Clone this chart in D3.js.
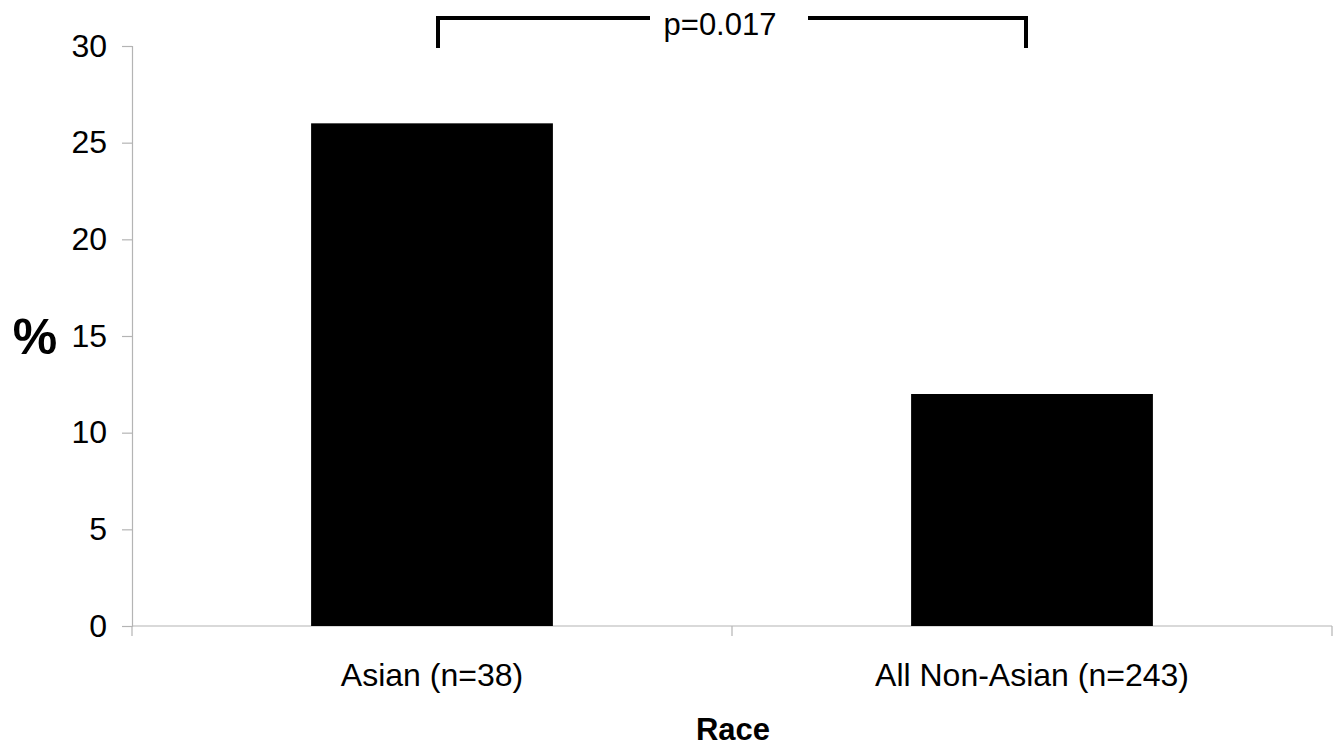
<!DOCTYPE html>
<html>
<head>
<meta charset="utf-8">
<script src="https://cdn.jsdelivr.net/npm/d3@7"></script>
<style>
  html, body { margin: 0; padding: 0; background: #fff; }
  svg text { font-family: "Liberation Sans", Arial, sans-serif; }
</style>
</head>
<body>
<svg id="chart" width="1342" height="748"></svg>
<script>
const categories = ["Asian (n=38)", "All Non-Asian (n=243)"];
const values = [26, 12];
const yTicks = [0, 5, 10, 15, 20, 25, 30];
const yLabel = "%";
const xLabel = "Race";
const pLabel = "p=0.017";

const svg = d3.select("#chart");
const m = { left: 132, right: 1332, top: 46, bottom: 626 };

const x = d3.scaleBand().domain(categories).range([m.left, m.right]).padding(0);
const y = d3.scaleLinear().domain([0, 30]).range([m.bottom, m.top]);
const barW = x.bandwidth() * 0.403;
const axisColor = "#b4b4b4";

// Y axis
const yAxis = d3.axisLeft(y).tickValues(yTicks).tickSize(10).tickPadding(15);
const gy = svg.append("g").attr("transform", `translate(${m.left},0)`).call(yAxis);
gy.select(".domain").attr("stroke", axisColor).attr("stroke-width", 1.2);
gy.selectAll(".tick line").attr("stroke", axisColor).attr("stroke-width", 1.2);
gy.selectAll(".tick text").attr("font-size", 32).attr("fill", "#000")
  .attr("font-family", "'Liberation Sans', Arial, sans-serif");

// X axis
const gx = svg.append("g").attr("transform", `translate(0,${m.bottom})`);
gx.append("line").attr("x1", m.left).attr("x2", m.right)
  .attr("stroke", axisColor).attr("stroke-width", 1.2);
const boundaries = [m.left].concat(categories.map(c => x(c) + x.bandwidth()));
gx.selectAll("line.tk").data(boundaries).enter().append("line")
  .attr("class", "tk")
  .attr("x1", d => d).attr("x2", d => d).attr("y1", 0).attr("y2", 10)
  .attr("stroke", axisColor).attr("stroke-width", 1.2);
gx.selectAll("text.cat").data(categories).enter().append("text")
  .attr("class", "cat")
  .attr("x", d => x(d) + x.bandwidth() / 2)
  .attr("y", 60)
  .attr("text-anchor", "middle")
  .attr("font-size", 32)
  .text(d => d);

// Bars
svg.selectAll("rect.bar").data(values).enter().append("rect")
  .attr("class", "bar")
  .attr("x", (d, i) => x(categories[i]) + (x.bandwidth() - barW) / 2)
  .attr("width", barW)
  .attr("y", d => y(d))
  .attr("height", d => y(0) - y(d))
  .attr("fill", "#000");

// Axis titles
svg.append("text").attr("x", 35).attr("y", 354).attr("text-anchor", "middle")
  .attr("font-size", 50).attr("font-weight", "bold").text(yLabel);
svg.append("text").attr("x", 733).attr("y", 740).attr("text-anchor", "middle")
  .attr("font-size", 31).attr("font-weight", "bold").text(xLabel);

// Significance bracket
const bx1 = x(categories[0]) + x.bandwidth() / 2 + 6;
const bx2 = x(categories[1]) + x.bandwidth() / 2 - 6;
const by = 18, byEnd = 48;
const bMid = (bx1 + bx2) / 2;
const br = svg.append("g").attr("stroke", "#000").attr("stroke-width", 4).attr("fill", "none");
br.append("path").attr("d", `M${bx1},${byEnd} V${by} H${bMid - 82}`);
br.append("path").attr("d", `M${bMid + 76},${by} H${bx2} V${byEnd}`);
svg.append("text").attr("x", bMid - 12).attr("y", 35).attr("text-anchor", "middle")
  .attr("font-size", 31).text(pLabel);
</script>
</body>
</html>
